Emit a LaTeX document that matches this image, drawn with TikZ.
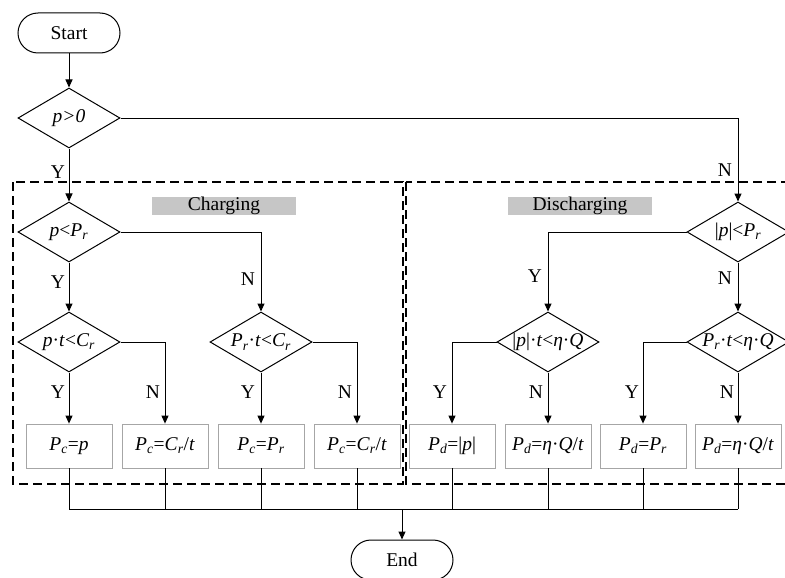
\documentclass[tikz,border=0pt]{standalone}
\usepackage{fontspec}
\setmainfont{Liberation Serif}
\usetikzlibrary{shapes.geometric,arrows.meta}
\newcommand\vi[1]{\textit{#1}}
\newcommand\sbs[1]{\textsubscript{\textit{#1}}}
\begin{document}
\begin{tikzpicture}[x=1pt,y=-1pt,
  every node/.style={font=\fontsize{19.5}{22}\selectfont},
  term/.style={draw, line width=1pt, rounded corners=20pt, minimum width=102pt, minimum height=40pt, inner sep=0pt},
  dia/.style={draw, line width=1pt, diamond, minimum width=102pt, minimum height=60pt, inner sep=0pt},
  res/.style={draw=gray!70, line width=0.8pt, minimum width=86pt, minimum height=44pt, inner sep=0pt},
  zone/.style={dashed, dash pattern=on 9pt off 5pt, line width=1.1pt},
  tag/.style={fill=gray!45, minimum width=144pt, minimum height=18pt, inner sep=0pt},
  lbl/.style={inner sep=0pt},
  conn/.style={line width=1pt},
  arr/.style={line width=1pt, -{Triangle[length=8pt,width=7pt]}}]
\useasboundingbox (0,0) rectangle (785,578);
% dashed zones
\draw[zone] (13,182) rectangle (403,484);
\draw[zone] (406,182) rectangle (800,484);
\node[tag] (tc) at (224,206) {Charging};
\node[tag] (td) at (580,206) {Discharging};
% nodes
\node[term] (start) at (69,33) {Start};
\node[dia, label={center:\vi{p>0}}] (d0) at (69,118) {};
\node[dia, label={center:\vi{p}<\vi{P}\sbs{r}}] (d1) at (69,232) {};
\node[dia, label={center:\vi{p}·\vi{t}<\vi{C}\sbs{r}}] (d2) at (69,342) {};
\node[dia, label={center:\vi{P}\sbs{r}·\vi{t}<\vi{C}\sbs{r}}] (d3) at (261,342) {};
\node[dia, label={center:|\vi{p}|<\vi{P}\sbs{r}}] (d4) at (738,232) {};
\node[dia, label={center:|\vi{p}|·\vi{t}<\vi{η}·\vi{Q}}] (d5) at (548,342) {};
\node[dia, label={center:\vi{P}\sbs{r}·\vi{t}<\vi{η}·\vi{Q}}] (d6) at (738,342) {};
\node[res] (b1) at (69,446) {\vi{P}\sbs{c}=\vi{p}};
\node[res] (b2) at (165,446) {\vi{P}\sbs{c}=\vi{C}\sbs{r}/\vi{t}};
\node[res] (b3) at (261,446) {\vi{P}\sbs{c}=\vi{P}\sbs{r}};
\node[res] (b4) at (357,446) {\vi{P}\sbs{c}=\vi{C}\sbs{r}/\vi{t}};
\node[res] (b5) at (452,446) {\vi{P}\sbs{d}=|\vi{p}|};
\node[res] (b6) at (548,446) {\vi{P}\sbs{d}=\vi{η}·\vi{Q}/\vi{t}};
\node[res] (b7) at (643,446) {\vi{P}\sbs{d}=\vi{P}\sbs{r}};
\node[res] (b8) at (738,446) {\vi{P}\sbs{d}=\vi{η}·\vi{Q}/\vi{t}};
\node[term] (end) at (402,560) {End};
\coordinate (bus) at (0,509);
% connectors
\draw[arr] (start) -- (d0);
\draw[arr] (d0) -- (d1);
\draw[arr] (d0.east) -- (d4.north |- d0.east) -- (d4.north);
\draw[arr] (d1) -- (d2);
\draw[arr] (d1.east) -| (d3.north);
\draw[arr] (d2) -- (b1);
\draw[arr] (d2.east) -| (b2.north);
\draw[arr] (d3) -- (b3);
\draw[arr] (d3.east) -| (b4.north);
\draw[arr] (d4.west) -| (d5.north);
\draw[arr] (d4) -- (d6);
\draw[arr] (d5.west) -| (b5.north);
\draw[arr] (d5) -- (b6);
\draw[arr] (d6.west) -| (b7.north);
\draw[arr] (d6) -- (b8);
\foreach \b in {b1,b2,b3,b4,b5,b6,b7,b8}
  \draw[conn] (\b.south) -- (\b.south |- bus);
\draw[conn] (b1.south |- bus) -- (b8.south |- bus);
\draw[arr] (end.north |- bus) -- (end.north);
% labels
\node[lbl] at (58,172) {Y};
\node[lbl] at (725,170) {N};
\node[lbl] at (58,282) {Y};
\node[lbl] at (248,279) {N};
\node[lbl] at (535,276) {Y};
\node[lbl] at (725,278) {N};
\node[lbl] at (58,392) {Y};
\node[lbl] at (153,392) {N};
\node[lbl] at (248,392) {Y};
\node[lbl] at (345,392) {N};
\node[lbl] at (440,392) {Y};
\node[lbl] at (536,392) {N};
\node[lbl] at (632,392) {Y};
\node[lbl] at (727,392) {N};
\end{tikzpicture}
\end{document}
